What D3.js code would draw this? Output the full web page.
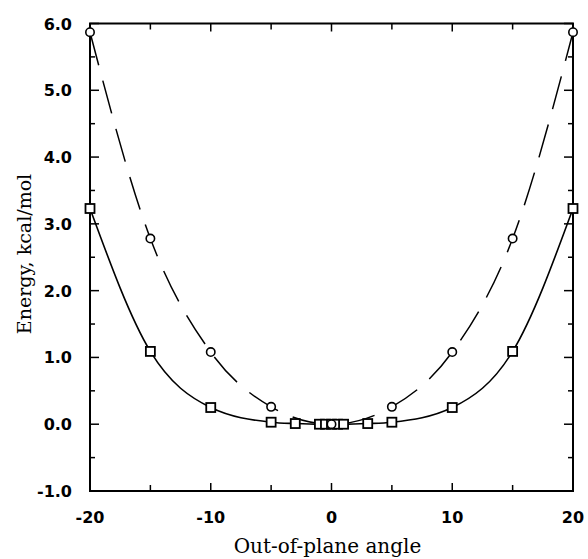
<!doctype html>
<html>
<head>
<script src="https://d3js.org/d3.v7.min.js"></script>
<style>
  body { margin: 0; background: #fff; }
</style>
</head>
<body>
<svg id="chart" width="588" height="559"></svg>
<script>
  // data
  const circleAngles = [-20, -15, -10, -5, 0, 5, 10, 15, 20];
  const circleEnergy = [5.87, 2.78, 1.08, 0.26, 0.0, 0.26, 1.08, 2.78, 5.87];
  const squareAngles = [-20, -15, -10, -5, -3, -1, -0.5, 0, 0.5, 1, 3, 5, 10, 15, 20];
  const squareEnergy = [3.23, 1.09, 0.25, 0.03, 0.01, 0.0, 0.0, 0.0, 0.0, 0.0, 0.01, 0.03, 0.25, 1.09, 3.23];
  const xTicks = [-20, -10, 0, 10, 20];
  const yTicks = [-1, 0, 1, 2, 3, 4, 5, 6];

  const margin = { top: 23.5, right: 15, bottom: 68, left: 90 };
  const width = 588 - margin.left - margin.right;
  const height = 559 - margin.top - margin.bottom;

  const svg = d3.select("#chart")
    .append("g")
    .attr("transform", `translate(${margin.left},${margin.top})`);

  const x = d3.scaleLinear().domain([-20, 20]).range([0, width]);
  const y = d3.scaleLinear().domain([-1, 6]).range([height, 0]);

  const circles = circleAngles.map((a, i) => ({ a: a, e: circleEnergy[i] }));
  const squares = squareAngles.map((a, i) => ({ a: a, e: squareEnergy[i] }));

  // frame
  svg.append("rect")
    .attr("width", width).attr("height", height)
    .attr("fill", "none").attr("stroke", "#000").attr("stroke-width", 2);

  // inward ticks on all four sides
  const xMinor = d3.range(-20, 20.01, 5);
  const yMinor = d3.range(-1, 6.01, 0.5);
  const isMajorX = v => Math.abs(v % 10) < 1e-6;
  const isMajorY = v => Math.abs(v - Math.round(v)) < 1e-6;

  xMinor.forEach(v => {
    const len = isMajorX(v) ? 8 : 6;
    svg.append("line").attr("x1", x(v)).attr("x2", x(v))
      .attr("y1", height).attr("y2", height - len)
      .attr("stroke", "#000").attr("stroke-width", 1.5);
    svg.append("line").attr("x1", x(v)).attr("x2", x(v))
      .attr("y1", 0).attr("y2", len)
      .attr("stroke", "#000").attr("stroke-width", 1.5);
  });
  yMinor.forEach(v => {
    const len = isMajorY(v) ? 9 : 5;
    svg.append("line").attr("x1", 0).attr("x2", len)
      .attr("y1", y(v)).attr("y2", y(v))
      .attr("stroke", "#000").attr("stroke-width", 1.5);
    svg.append("line").attr("x1", width).attr("x2", width - len)
      .attr("y1", y(v)).attr("y2", y(v))
      .attr("stroke", "#000").attr("stroke-width", 1.5);
  });

  // tick labels
  svg.selectAll(".xl").data(xTicks).enter().append("text")
    .attr("x", d => x(d)).attr("y", height + 32)
    .attr("text-anchor", "middle")
    .attr("font-family", "DejaVu Sans, sans-serif")
    .attr("font-weight", "bold").attr("font-size", 16)
    .text(d => d);

  svg.selectAll(".yl").data(yTicks).enter().append("text")
    .attr("x", -18).attr("y", d => y(d) + 6)
    .attr("text-anchor", "end")
    .attr("font-family", "DejaVu Sans, sans-serif")
    .attr("font-weight", "bold").attr("font-size", 16)
    .text(d => d.toFixed(1));

  // axis titles
  svg.append("text")
    .attr("x", 327.5 - margin.left).attr("y", 553 - margin.top)
    .attr("text-anchor", "middle")
    .attr("font-family", "DejaVu Serif, serif")
    .attr("font-size", 20)
    .text("Out-of-plane angle");

  svg.append("text")
    .attr("transform", `translate(${31 - margin.left},${254 - margin.top}) rotate(-90)`)
    .attr("text-anchor", "middle")
    .attr("font-family", "DejaVu Serif, serif")
    .attr("font-size", 19)
    .text("Energy, kcal/mol");

  // curves
  const line = d3.line()
    .x(d => x(d.a))
    .y(d => y(d.e))
    .curve(d3.curveMonotoneX);

  svg.append("path")
    .datum(circles)
    .attr("fill", "none").attr("stroke", "#000")
    .attr("stroke-width", 1.5)
    .attr("stroke-dasharray", "34,16")
    .attr("d", line);

  svg.append("path")
    .datum(squares)
    .attr("fill", "none").attr("stroke", "#000")
    .attr("stroke-width", 1.6)
    .attr("d", line);

  // markers
  svg.selectAll(".sq").data(squares).enter().append("rect")
    .attr("x", d => x(d.a) - 4.5).attr("y", d => y(d.e) - 4.5)
    .attr("width", 9).attr("height", 9)
    .attr("fill", "#fff").attr("stroke", "#000").attr("stroke-width", 1.8);

  svg.selectAll(".ci").data(circles).enter().append("circle")
    .attr("cx", d => x(d.a)).attr("cy", d => y(d.e))
    .attr("r", 4.2)
    .attr("fill", "#fff").attr("stroke", "#000").attr("stroke-width", 1.6);
</script>
</body>
</html>
